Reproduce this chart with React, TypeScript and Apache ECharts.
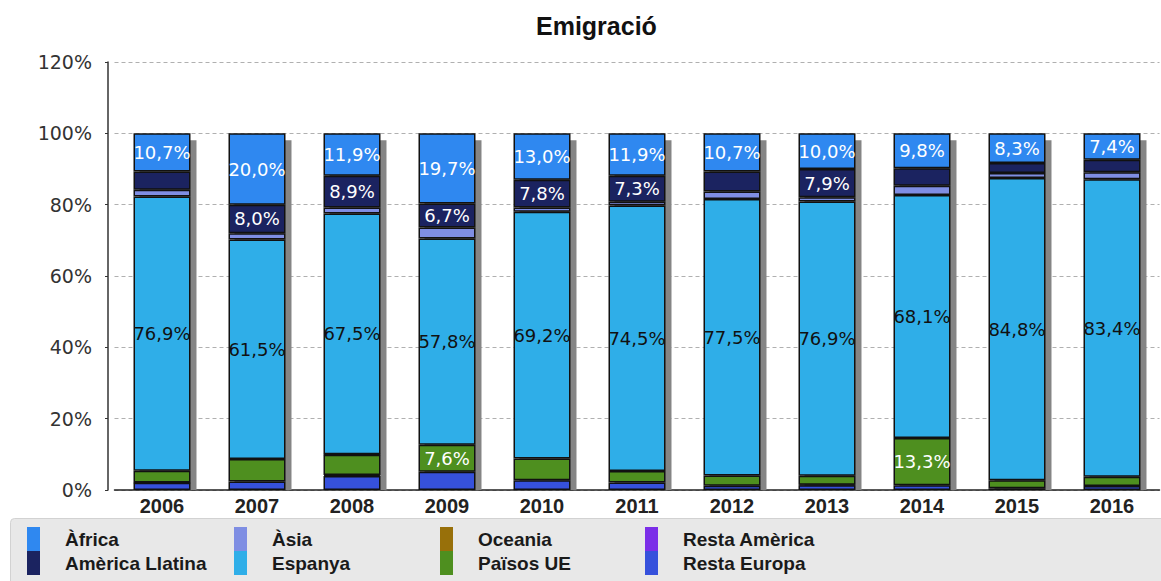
import React, { useEffect, useRef } from "react";
import * as echarts from "echarts";

const categories = ["2006", "2007", "2008", "2009", "2010", "2011", "2012", "2013", "2014", "2015", "2016"];
const restaEuropa = [2.0, 2.4, 3.9, 5.1, 2.7, 2.1, 1.2, 1.3, 1.3, 0.5, 1.1];
const restaAmerica = [0.1, null, 0.3, null, null, null, null, 0.2, null, null, null];
const paisosUE = [3.3, 6.3, 5.7, 7.6, 6.1, 3.2, 2.9, 2.5, 13.3, 2.2, 2.6];
const oceania = [null, null, 0.1, null, null, null, null, null, null, null, null];
const espanya = [76.9, 61.5, 67.5, 57.8, 69.2, 74.5, 77.5, 76.9, 68.1, 84.8, 83.4];
const asia = [1.9, 1.8, 1.7, 3.1, 1.2, 1.0, 2.1, 1.2, 2.6, 1.4, 2.0];
const americaLlatina = [5.1, 8.0, 8.9, 6.7, 7.8, 7.3, 5.6, 7.9, 4.9, 2.8, 3.5];
const africa = [10.7, 20.0, 11.9, 19.7, 13.0, 11.9, 10.7, 10.0, 9.8, 8.3, 7.4];
const yTicks = [0, 20, 40, 60, 80, 100, 120];

// bottom to top stacking order
const seriesDefs = [
  { name: "Resta Europa", data: restaEuropa, color: "#3651DC", label: "#ffffff" },
  { name: "Resta Amèrica", data: restaAmerica, color: "#7B2EE8", label: "#ffffff" },
  { name: "Països UE", data: paisosUE, color: "#4E8F1F", label: "#ffffff" },
  { name: "Oceania", data: oceania, color: "#98700A", label: "#ffffff" },
  { name: "Espanya", data: espanya, color: "#2FAEE8", label: "#111111" },
  { name: "Àsia", data: asia, color: "#7F8EE3", label: "#111111" },
  { name: "Amèrica Llatina", data: americaLlatina, color: "#1B2360", label: "#ffffff" },
  { name: "Àfrica", data: africa, color: "#2F88F0", label: "#ffffff" },
];

const legendColumns = [
  ["Àfrica", "Amèrica Llatina"],
  ["Àsia", "Espanya"],
  ["Oceania", "Països UE"],
  ["Resta Amèrica", "Resta Europa"],
];
const legendLefts = [27, 234, 440, 645];

const BAR_W = 57;

export default function App() {
  const ref = useRef<HTMLDivElement>(null);
  useEffect(() => {
    if (!ref.current) return;
    const chart = echarts.init(ref.current, null, { renderer: "svg" });
    const totals = categories.map((_, i) =>
      seriesDefs.reduce((s, d) => s + ((d.data[i] as number) || 0), 0)
    );
    const fmt = (p: any) => {
      const v = p.value;
      if (v == null || v < 6.5) return "";
      return v.toFixed(1).replace(".", ",") + "%";
    };
    const option: any = {
      animation: false,
      backgroundColor: "#ffffff",
      title: {
        text: "Emigració",
        left: 531,
        top: 8,
        textStyle: { fontFamily: "Liberation Sans", fontWeight: "bold", fontSize: 25, color: "#111" },
      },
      graphic: [
        {
          type: "rect",
          left: 10,
          top: 518,
          z: 0,
          shape: { width: 1170, height: 80, r: 4 },
          style: { fill: "#e8e8e8", stroke: "#d2d2d2", lineWidth: 1 },
        },
      ],
      legend: legendColumns.map((col, k) => ({
        data: col,
        orient: "vertical",
        left: legendLefts[k],
        top: 527,
        padding: 0,
        z: 5,
        itemWidth: 13,
        itemHeight: 24,
        itemGap: 0,
        icon: "rect",
        selectedMode: false,
        itemStyle: { borderWidth: 0 },
        textStyle: {
          fontFamily: "Liberation Sans",
          fontWeight: "bold",
          fontSize: 19,
          lineHeight: 22,
          color: "#1a1a1a",
          padding: [0, 0, 0, 20],
        },
      })),
      grid: { left: 114.5, right: 1.5, top: 62, bottom: 91 },
      xAxis: {
        type: "category",
        data: categories,
        axisLine: { lineStyle: { color: "#222", width: 1.5 } },
        axisTick: { show: false },
        axisLabel: {
          fontFamily: "Liberation Sans",
          fontWeight: "bold",
          fontSize: 20,
          color: "#222",
          margin: 6,
        },
      },
      yAxis: {
        type: "value",
        min: 0,
        max: 120,
        interval: 20,
        offset: 6.5,
        axisLine: { show: true, lineStyle: { color: "#333", width: 1.5 } },
        axisTick: { show: true, length: 3, lineStyle: { color: "#333" } },
        splitLine: { lineStyle: { color: "#b0b0b0", type: [4, 3], width: 1 } },
        axisLabel: {
          fontFamily: "DejaVu Sans",
          fontSize: 19,
          color: "#333",
          margin: 16,
          formatter: (v: number) => (yTicks.includes(v) ? v + "%" : ""),
        },
      },
      series: [
        {
          type: "custom",
          name: "shadow",
          z: 1,
          silent: true,
          data: categories.map((_, i) => [i, totals[i]]),
          renderItem: (params: any, api: any) => {
            const top = api.coord([api.value(0), api.value(1)]);
            const base = api.coord([api.value(0), 0]);
            return {
              type: "rect",
              shape: {
                x: top[0] - BAR_W / 2 + 6,
                y: top[1] + 7,
                width: BAR_W,
                height: base[1] - top[1] - 7,
              },
              style: { fill: "#858585" },
            };
          },
        },
        ...seriesDefs.map((d) => ({
          type: "bar",
          name: d.name,
          stack: "total",
          z: 2,
          barWidth: BAR_W,
          data: d.data,
          itemStyle: { color: d.color, borderColor: "#111", borderWidth: 1.5 },
          label: {
            show: true,
            position: "inside",
            formatter: fmt,
            fontFamily: "DejaVu Sans",
            fontSize: 18,
            color: d.label,
          },
        })),
      ],
    };
    chart.setOption(option);
    return () => chart.dispose();
  }, []);
  return (
    <div
      ref={ref}
      style={{ position: "fixed", left: 0, top: 0, width: 1161, height: 581 }}
    />
  );
}
